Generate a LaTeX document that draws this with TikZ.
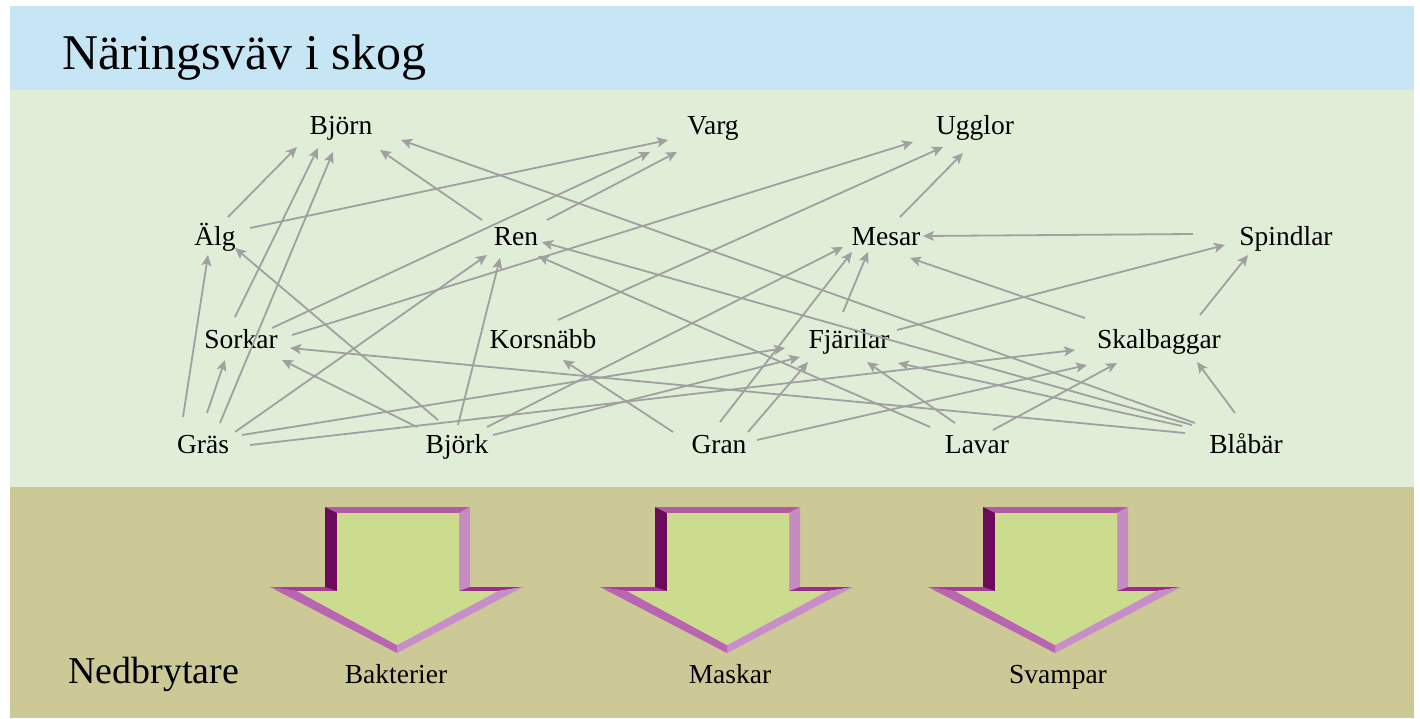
\documentclass[tikz,border=0pt]{standalone}
\usepackage{fontspec}
\setmainfont{Liberation Serif}
\usetikzlibrary{arrows.meta,calc}

% palette
\definecolor{skyband}{HTML}{C6E6F6}
\definecolor{webband}{HTML}{E0EED8}
\definecolor{soilband}{HTML}{CCC997}
\definecolor{linkgray}{HTML}{A0A0A0}
\definecolor{arrowfill}{HTML}{CCDC8F}
\definecolor{bevtop}{HTML}{B25AA3}
\definecolor{bevleft}{HTML}{6C0B5C}
\definecolor{bevright}{HTML}{C68CC2}
\definecolor{bevlshoulder}{HTML}{A83A9A}
\definecolor{bevrshoulder}{HTML}{9B2D8A}
\definecolor{bevldiag}{HTML}{B965B2}
\definecolor{bevrdiag}{HTML}{C88ECA}

\tikzset{
  species/.style={anchor=base, inner sep=0pt, font=\fontsize{27.6}{33}\selectfont},
  link/.style={draw=linkgray, line width=1.8bp,
    -{Stealth[length=11bp,width=10bp,inset=2.5bp,fill=linkgray]}},
}

% one feeding link: source node, its offset, target node, its offset
\newcommand\feeds[6]{\draw[link] ($(#1.base)+(#2,#3)$) -- ($(#4.base)+(#5,#6)$);}

% bevelled block arrow pointing down, centred at x = #1
\newcommand\decomposer[1]{%
  \begin{scope}[shift={(#1,0)}]
    \fill[bevtop]       (-72,507) -- (73,507) -- (62,513) -- (-60,513) -- cycle;
    \fill[bevright]     (73,507) -- (73,587) -- (62,591) -- (62,513) -- cycle;
    \fill[bevrshoulder] (73,587) -- (126,587) -- (101,591) -- (62,591) -- cycle;
    \fill[bevrdiag]     (126,587) -- (0,653) -- (0,645) -- (101,591) -- cycle;
    \fill[bevldiag]     (0,653) -- (-127,587) -- (-100,591) -- (0,645) -- cycle;
    \fill[bevlshoulder] (-127,587) -- (-72,587) -- (-60,591) -- (-100,591) -- cycle;
    \fill[bevleft]      (-72,587) -- (-72,507) -- (-60,513) -- (-60,591) -- cycle;
    \fill[arrowfill]    (-60,513) -- (62,513) -- (62,591) -- (101,591) -- (0,645)
                        -- (-100,591) -- (-60,591) -- cycle;
  \end{scope}}

\begin{document}
\begin{tikzpicture}[x=1bp, y=-1bp]
\useasboundingbox (0,0) rectangle (1420,718);

% background bands
\fill[skyband]  (10,6)   rectangle (1414,90);
\fill[webband]  (10,90)  rectangle (1414,487);
\fill[soilband] (10,487) rectangle (1414,718);

% title
\node[anchor=base west, inner sep=0pt, font=\fontsize{50.2}{58}\selectfont]
  (title) at (62,70) {Näringsväv i skog};

% species
\node[species] (bjorn)    at (341,135)  {Björn};
\node[species] (varg)     at (713,135)  {Varg};
\node[species] (ugglor)   at (975,135)  {Ugglor};
\node[species] (alg)      at (215,245)  {Älg};
\node[species] (ren)      at (516,245)  {Ren};
\node[species] (mesar)    at (886,245)  {Mesar};
\node[species] (spindlar) at (1286,245) {Spindlar};
\node[species] (sorkar)   at (241,348)  {Sorkar};
\node[species] (korsnabb) at (543,348)  {Korsnäbb};
\node[species] (fjarilar) at (849,348)  {Fjärilar};
\node[species] (skalbaggar) at (1159,348) {Skalbaggar};
\node[species] (gras)     at (203,453)  {Gräs};
\node[species] (bjork)    at (457,453)  {Björk};
\node[species] (gran)     at (719,453)  {Gran};
\node[species] (lavar)    at (977,453)  {Lavar};
\node[species] (blabar)   at (1246,453) {Blåbär};

% who eats whom
\feeds{alg}{13}{-28}{bjorn}{-44}{12}
\feeds{sorkar}{-6}{-31}{bjorn}{-23}{13}
\feeds{gras}{17}{-30}{bjorn}{-8}{17}
\feeds{ren}{-34}{-25}{bjorn}{39}{15}
\feeds{blabar}{-51}{-30}{bjorn}{60}{5}
\feeds{alg}{35}{-17}{varg}{-45}{5}
\feeds{sorkar}{31}{-20}{varg}{-63}{17}
\feeds{ren}{31}{-25}{varg}{-36}{17}
\feeds{sorkar}{51}{-13}{ugglor}{-62}{7}
\feeds{korsnabb}{15}{-28}{ugglor}{-32}{12}
\feeds{mesar}{14}{-28}{ugglor}{-12}{18}
\feeds{gras}{-20}{-36}{alg}{-7}{10}
\feeds{bjork}{-19}{-33}{alg}{20}{3}
\feeds{gras}{32}{-21}{ren}{-29}{10}
\feeds{bjork}{1}{-28}{ren}{-16}{13}
\feeds{blabar}{-54}{-28}{ren}{26}{-3}
\feeds{lavar}{-47}{-26}{ren}{22}{11}
\feeds{bjork}{30}{-26}{mesar}{-43}{2}
\feeds{gran}{1}{-31}{mesar}{-34}{7}
\feeds{fjarilar}{-6}{-36}{mesar}{-18}{7}
\feeds{spindlar}{-93}{-11}{mesar}{37}{-9}
\feeds{skalbaggar}{-74}{-30}{mesar}{24}{13}
\feeds{fjarilar}{48}{-18}{spindlar}{-61}{0}
\feeds{skalbaggar}{41}{-33}{spindlar}{-38}{10}
\feeds{gras}{4}{-40}{sorkar}{-16}{12}
\feeds{bjork}{-40}{-26}{sorkar}{41}{12}
\feeds{blabar}{-61}{-20}{sorkar}{49}{0}
\feeds{gran}{-46}{-21}{korsnabb}{20}{12}
\feeds{gras}{39}{-18}{fjarilar}{-64}{0}
\feeds{bjork}{36}{-18}{fjarilar}{-49}{9}
\feeds{gran}{29}{-21}{fjarilar}{-41}{14}
\feeds{lavar}{-22}{-30}{fjarilar}{18}{14}
\feeds{blabar}{-64}{-27}{fjarilar}{49}{15}
\feeds{gras}{47}{-8}{skalbaggar}{-84}{2}
\feeds{gran}{38}{-13}{skalbaggar}{-72}{17}
\feeds{lavar}{16}{-23}{skalbaggar}{-42}{15}
\feeds{blabar}{-11}{-40}{skalbaggar}{38}{14}

% decomposers
\decomposer{397}
\decomposer{727}
\decomposer{1055}

\node[anchor=base west, inner sep=0pt, font=\fontsize{38.1}{44}\selectfont]
  (nedbrytare) at (68,683) {Nedbrytare};
\node[species] (bakterier) at (396,683)  {Bakterier};
\node[species] (maskar)    at (730,683)  {Maskar};
\node[species] (svampar)   at (1058,683) {Svampar};
\end{tikzpicture}
\end{document}
